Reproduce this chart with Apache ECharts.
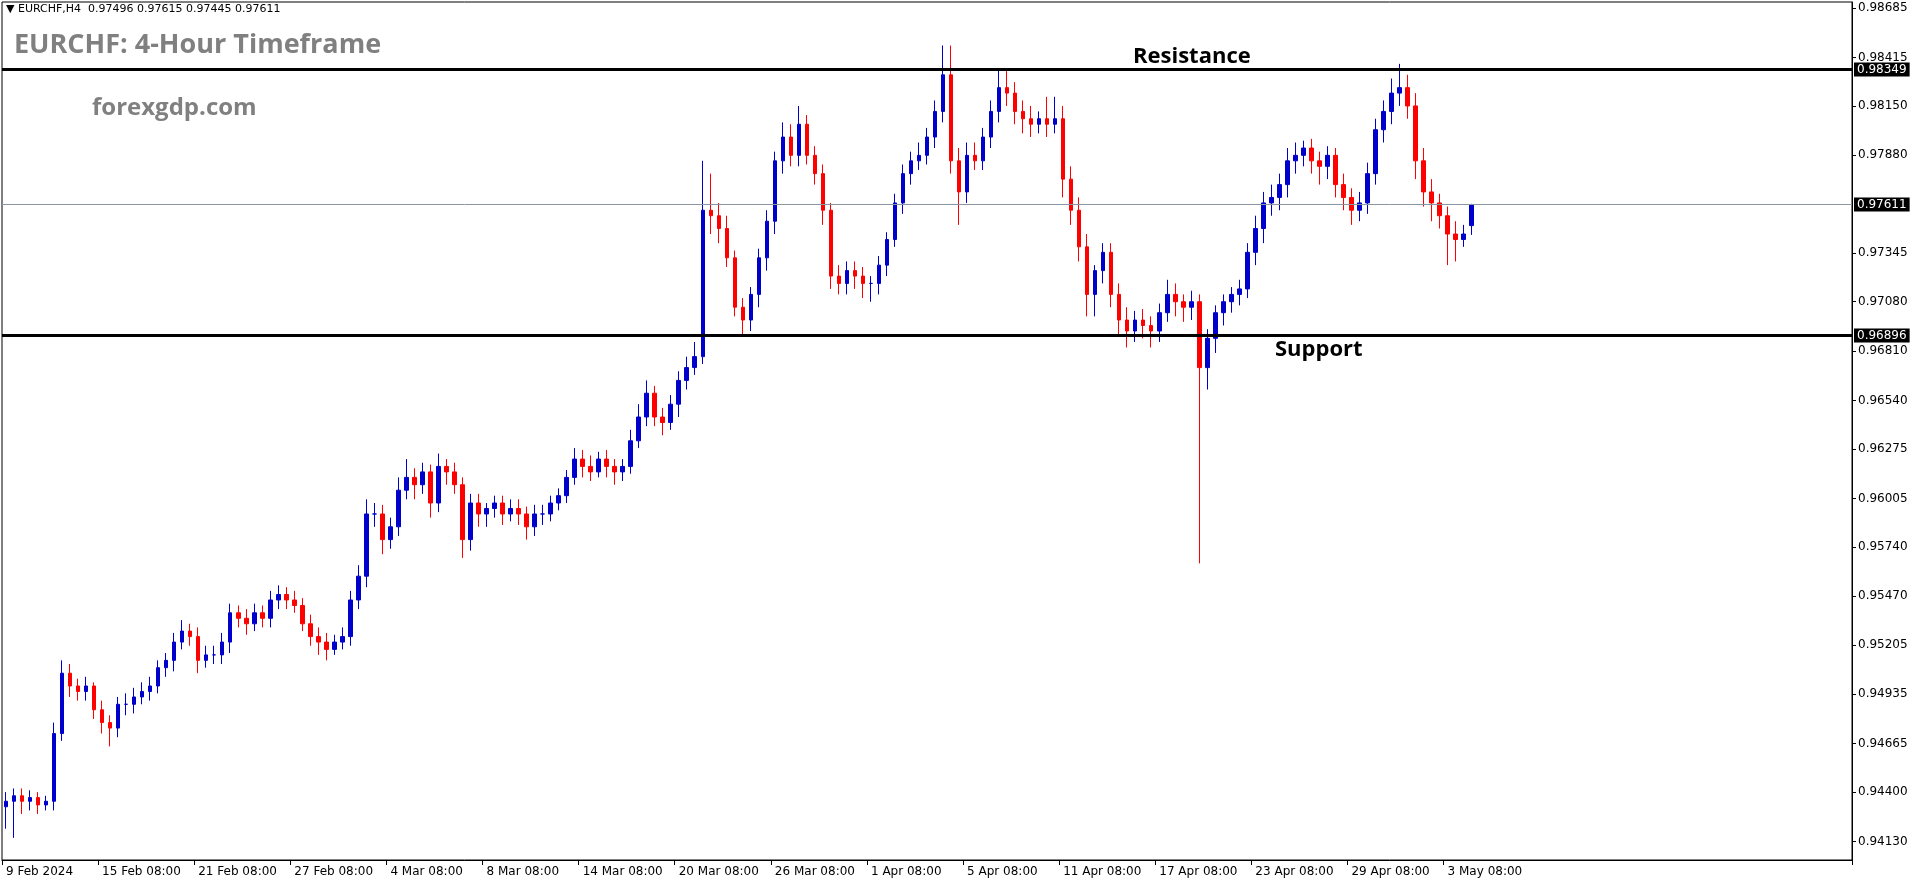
<!DOCTYPE html>
<html><head><meta charset="utf-8">
<script src="https://cdn.jsdelivr.net/npm/echarts@6/dist/echarts.min.js"></script>
<style>html,body{margin:0;padding:0;background:#fff}#c{width:1916px;height:884px}</style>
</head><body><div id="c"></div>
<script>
const dateLabels = ["9 Feb 2024","15 Feb 08:00","21 Feb 08:00","27 Feb 08:00","4 Mar 08:00","8 Mar 08:00","14 Mar 08:00","20 Mar 08:00","26 Mar 08:00","1 Apr 08:00","5 Apr 08:00","11 Apr 08:00","17 Apr 08:00","23 Apr 08:00","29 Apr 08:00","3 May 08:00"];
const opens = [
0.9432,0.9435,0.9438,0.9435,0.9437,0.9433,0.9435,0.9472,0.9505,0.9498,0.9495,0.9498,
0.9485,0.9478,0.9475,0.9488,0.9488,0.9492,0.9495,0.9498,0.9508,0.9512,0.9522,0.9528,
0.9525,0.9512,0.9515,0.9515,0.9522,0.9538,0.9535,0.9532,0.9538,0.9535,0.9545,0.9548,
0.9545,0.9542,0.9532,0.9525,0.9522,0.9518,0.9522,0.9525,0.9545,0.9558,0.9592,0.9592,
0.9578,0.9585,0.9605,0.9612,0.9608,0.9615,0.9598,0.9618,0.9615,0.9608,0.9578,0.9598,
0.9592,0.9595,0.9598,0.9592,0.9595,0.9592,0.9585,0.9592,0.9592,0.9598,0.9602,0.9612,
0.9622,0.9618,0.9615,0.9622,0.9618,0.9615,0.9618,0.9632,0.9645,0.9658,0.9645,0.9642,
0.9652,0.9665,0.9672,0.9678,0.9758,0.9755,0.9748,0.9732,0.9705,0.9698,0.9712,0.9732,
0.9752,0.9785,0.9798,0.9788,0.9805,0.9788,0.9778,0.9758,0.9722,0.9718,0.9725,0.9722,
0.9718,0.9718,0.9728,0.9742,0.9762,0.9778,0.9785,0.9788,0.9798,0.9812,0.9832,0.9785,
0.9768,0.9788,0.9785,0.9798,0.9812,0.9825,0.9822,0.9812,0.9808,0.9805,0.9808,0.9805,
0.9808,0.9775,0.9758,0.9738,0.9712,0.9725,0.9735,0.9712,0.9698,0.9692,0.9698,0.9695,
0.9692,0.9702,0.9712,0.9708,0.9705,0.9708,0.9672,0.9688,0.9702,0.9708,0.9712,0.9715,
0.9735,0.9748,0.9762,0.9765,0.9772,0.9785,0.9788,0.9792,0.9785,0.9782,0.9788,0.9772,
0.9765,0.9758,0.9762,0.9778,0.9802,0.9812,0.9822,0.9825,0.9815,0.9785,0.9768,0.9762,
0.9755,0.9745,0.9742,0.97496];
const closes = [
0.9435,0.9438,0.9435,0.9437,0.9433,0.9435,0.9472,0.9505,0.9498,0.9495,0.9498,0.9485,
0.9478,0.9475,0.9488,0.9488,0.9492,0.9495,0.9498,0.9508,0.9512,0.9522,0.9528,0.9525,
0.9512,0.9515,0.9515,0.9522,0.9538,0.9535,0.9532,0.9538,0.9535,0.9545,0.9548,0.9545,
0.9542,0.9532,0.9525,0.9522,0.9518,0.9522,0.9525,0.9545,0.9558,0.9592,0.9592,0.9578,
0.9585,0.9605,0.9612,0.9608,0.9615,0.9598,0.9618,0.9615,0.9608,0.9578,0.9598,0.9592,
0.9595,0.9598,0.9592,0.9595,0.9592,0.9585,0.9592,0.9592,0.9598,0.9602,0.9612,0.9622,
0.9618,0.9615,0.9622,0.9618,0.9615,0.9618,0.9632,0.9645,0.9658,0.9645,0.9642,0.9652,
0.9665,0.9672,0.9678,0.9758,0.9755,0.9748,0.9732,0.9705,0.9698,0.9712,0.9732,0.9752,
0.9785,0.9798,0.9788,0.9805,0.9788,0.9778,0.9758,0.9722,0.9718,0.9725,0.9722,0.9718,
0.9718,0.9728,0.9742,0.9762,0.9778,0.9785,0.9788,0.9798,0.9812,0.9832,0.9785,0.9768,
0.9788,0.9785,0.9798,0.9812,0.9825,0.9822,0.9812,0.9808,0.9805,0.9808,0.9805,0.9808,
0.9775,0.9758,0.9738,0.9712,0.9725,0.9735,0.9712,0.9698,0.9692,0.9698,0.9695,0.9692,
0.9702,0.9712,0.9708,0.9705,0.9708,0.9672,0.9688,0.9702,0.9708,0.9712,0.9715,0.9735,
0.9748,0.9762,0.9765,0.9772,0.9785,0.9788,0.9792,0.9785,0.9782,0.9788,0.9772,0.9765,
0.9758,0.9762,0.9778,0.9802,0.9812,0.9822,0.9825,0.9815,0.9785,0.9768,0.9762,0.9755,
0.9745,0.9742,0.9745,0.97611];
const highs = [
0.9440,0.9442,0.9442,0.9441,0.9440,0.9438,0.9478,0.9512,0.9510,0.9502,0.9503,0.9500,
0.9490,0.9482,0.9492,0.9494,0.9497,0.9500,0.9503,0.9512,0.9516,0.9527,0.9534,0.9532,
0.9530,0.9520,0.9520,0.9527,0.9543,0.9542,0.9540,0.9543,0.9542,0.9550,0.9553,0.9552,
0.9550,0.9546,0.9537,0.9530,0.9527,0.9526,0.9530,0.9550,0.9564,0.9600,0.9598,0.9597,
0.9590,0.9612,0.9622,0.9617,0.9620,0.9619,0.9625,0.9622,0.9620,0.9612,0.9603,0.9603,
0.9598,0.9602,0.9602,0.9600,0.9600,0.9596,0.9597,0.9597,0.9602,0.9606,0.9616,0.9628,
0.9627,0.9624,0.9626,0.9627,0.9622,0.9622,0.9638,0.9652,0.9665,0.9662,0.9650,0.9657,
0.9670,0.9678,0.9686,0.9785,0.9778,0.9762,0.9755,0.9736,0.9710,0.9716,0.9737,0.9758,
0.9790,0.9806,0.9805,0.9815,0.9810,0.9793,0.9783,0.9762,0.9728,0.9730,0.9730,0.9727,
0.9722,0.9733,0.9746,0.9767,0.9783,0.9790,0.9795,0.9803,0.9818,0.9848,0.9848,0.9792,
0.9795,0.9795,0.9803,0.9818,0.9835,0.9834,0.9828,0.9818,0.9815,0.9812,0.9820,0.9820,
0.9815,0.9782,0.9765,0.9745,0.9728,0.9740,0.9740,0.9718,0.9705,0.9703,0.9704,0.9700,
0.9707,0.9720,0.9718,0.9712,0.9714,0.9712,0.9693,0.9706,0.9712,0.9716,0.9720,0.9740,
0.9755,0.9768,0.9772,0.9778,0.9792,0.9795,0.9796,0.9797,0.9790,0.9793,0.9792,0.9778,
0.9770,0.9768,0.9784,0.9808,0.9818,0.9830,0.9838,0.9832,0.9822,0.9792,0.9775,0.9767,
0.9760,0.9752,0.9750,0.97615];
const lows = [
0.9420,0.9415,0.9428,0.9430,0.9428,0.9430,0.9430,0.9468,0.9492,0.9490,0.9490,0.9480,
0.9472,0.9465,0.9470,0.9482,0.9483,0.9488,0.9490,0.9494,0.9503,0.9506,0.9518,0.9520,
0.9505,0.9508,0.9510,0.9510,0.9516,0.9530,0.9526,0.9528,0.9530,0.9530,0.9540,0.9540,
0.9538,0.9528,0.9520,0.9515,0.9512,0.9515,0.9518,0.9520,0.9540,0.9552,0.9585,0.9570,
0.9573,0.9580,0.9600,0.9600,0.9603,0.9590,0.9593,0.9608,0.9603,0.9568,0.9572,0.9585,
0.9585,0.9590,0.9586,0.9588,0.9586,0.9578,0.9580,0.9586,0.9588,0.9594,0.9598,0.9608,
0.9612,0.9610,0.9612,0.9612,0.9608,0.9610,0.9614,0.9628,0.9640,0.9640,0.9635,0.9638,
0.9645,0.9660,0.9668,0.9674,0.9745,0.9740,0.9727,0.9700,0.9690,0.9692,0.9705,0.9725,
0.9745,0.9778,0.9782,0.9782,0.9783,0.9772,0.9750,0.9715,0.9712,0.9712,0.9715,0.9710,
0.9708,0.9712,0.9722,0.9738,0.9756,0.9772,0.9780,0.9783,0.9792,0.9806,0.9778,0.9750,
0.9762,0.9780,0.9780,0.9792,0.9806,0.9815,0.9805,0.9800,0.9798,0.9800,0.9798,0.9800,
0.9765,0.9750,0.9730,0.9700,0.9700,0.9718,0.9705,0.9690,0.9683,0.9686,0.9688,0.9683,
0.9686,0.9697,0.9700,0.9697,0.9698,0.9565,0.9660,0.9680,0.9695,0.9702,0.9706,0.9710,
0.9728,0.9740,0.9755,0.9758,0.9765,0.9778,0.9782,0.9778,0.9772,0.9775,0.9765,0.9758,
0.9750,0.9752,0.9756,0.9772,0.9795,0.9805,0.9815,0.9808,0.9775,0.9760,0.9752,0.9748,
0.9728,0.9730,0.9738,0.97445];
const yTicks = [0.98685,0.98415,0.98150,0.97880,0.97345,0.97080,0.96810,0.96540,0.96275,0.96005,0.95740,0.95470,0.95205,0.94935,0.94665,0.94400,0.94130];
const resistance = 0.98349, support = 0.96896, current = 0.97611;

const BARS_PER_LABEL = 12, TOTAL_SLOTS = 231;
const cats = [];
for (let i = 0; i < TOTAL_SLOTS; i++) {
  const k = i / BARS_PER_LABEL;
  cats.push(i % BARS_PER_LABEL === 0 && k < dateLabels.length ? dateLabels[k] : '');
}
const ohlc = opens.map((o, i) => [o, closes[i], lows[i], highs[i]]);
const font = 'DejaVu Sans';
const boxLabel = { show: true, position: 'end', distance: 2, backgroundColor: '#000', color: '#fff', fontFamily: font, fontSize: 12, padding: [1, 3], formatter: p => Number(p.value).toFixed(5) };

const chart = echarts.init(document.getElementById('c'));
chart.setOption({
  animation: false,
  grid: { left: 2, top: 2, right: 64, bottom: 24, show: true, borderColor: '#000', borderWidth: 1 },
  xAxis: {
    type: 'category', data: cats, boundaryGap: true,
    axisLine: { lineStyle: { color: '#000' } },
    axisTick: { show: true, interval: (i, v) => v !== '', length: 5, lineStyle: { color: '#000' } },
    axisLabel: { interval: (i, v) => v !== '', align: 'left', color: '#000', fontFamily: font, fontSize: 12, margin: 6 },
    splitLine: { show: false }
  },
  yAxis: {
    type: 'value', position: 'right', min: 0.94029, max: 0.98718, scale: true,
    axisLine: { show: true, lineStyle: { color: '#000' } },
    axisTick: { show: true, customValues: yTicks, length: 4, lineStyle: { color: '#000' } },
    axisLabel: { customValues: yTicks, color: '#000', fontFamily: font, fontSize: 12, margin: 6, formatter: v => v.toFixed(5) },
    splitLine: { show: false }
  },
  graphic: [
    { type: 'text', left: 6, top: 4, style: { text: '▼ EURCHF,H4  0.97496 0.97615 0.97445 0.97611', fontFamily: font, fontSize: 11, fill: '#000' } },
    { type: 'text', left: 14, top: 32, style: { text: 'EURCHF: 4-Hour Timeframe', fontFamily: 'Open Sans', fontWeight: 'bold', fontSize: 27, fill: '#808080' } },
    { type: 'text', left: 92, top: 96, style: { text: 'forexgdp.com', fontFamily: 'Open Sans', fontWeight: 'bold', fontSize: 24, fill: '#808080' } },
    { type: 'text', left: 1133, top: 46, style: { text: 'Resistance', fontFamily: 'Open Sans', fontWeight: 'bold', fontSize: 22, fill: '#000' } },
    { type: 'text', left: 1275, top: 339, style: { text: 'Support', fontFamily: 'Open Sans', fontWeight: 'bold', fontSize: 22, fill: '#000' } }
  ],
  series: [{
    type: 'candlestick', data: ohlc, barWidth: 4,
    itemStyle: { color: '#0000cc', color0: '#ff0000', borderColor: '#0000cc', borderColor0: '#ff0000', borderWidth: 1 },
    markLine: {
      silent: true, symbol: 'none', animation: false, precision: 5,
      data: [
        { yAxis: resistance, lineStyle: { color: '#000', width: 3, type: 'solid' }, label: boxLabel },
        { yAxis: support, lineStyle: { color: '#000', width: 3, type: 'solid' }, label: boxLabel },
        { yAxis: current, lineStyle: { color: '#8a96a3', width: 1, type: 'solid' }, label: boxLabel }
      ]
    }
  }]
});
</script></body></html>
